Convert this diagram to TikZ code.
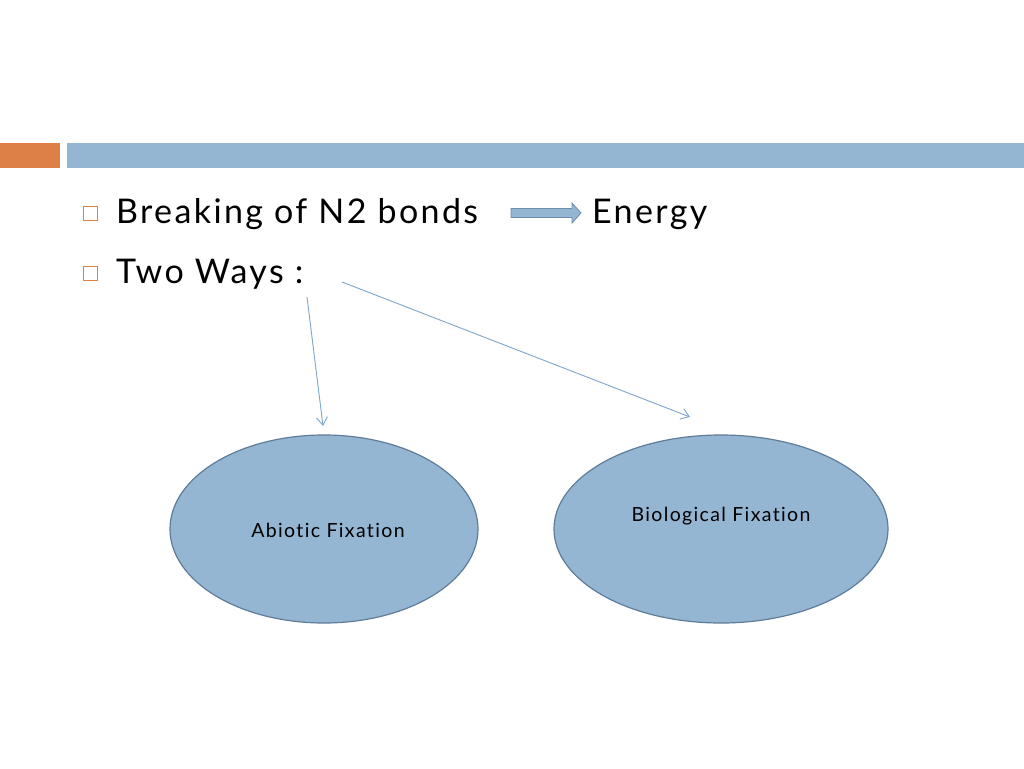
\documentclass[tikz,border=0pt]{standalone}
\usepackage{fontspec}
\setmainfont{Lato}[LetterSpace=7, Ligatures=NoCommon]
\usetikzlibrary{shapes.geometric,arrows.meta}
\definecolor{barblue}{HTML}{94B6D2}
\definecolor{barorange}{HTML}{DD8047}
\definecolor{ellborder}{HTML}{5F7C99}
\definecolor{thinarrow}{HTML}{7FA5CB}
\definecolor{blockborder}{HTML}{6C8DAE}
\tikzset{
  bigtext/.style={anchor=base west, inner sep=0pt, font=\fontsize{34}{36}\selectfont},
  smalltext/.style={inner sep=0pt, font=\fontsize{19.5}{22}\selectfont},
  bulletbox/.style={draw=barorange, line width=1pt, fill=white},
  fixell/.style={ellipse, draw=ellborder, line width=1.2pt, fill=barblue, inner sep=0pt},
  thinarr/.style={draw=thinarrow, line width=0.9pt, -{Straight Barb[length=8pt,width=11pt]}}
}
\begin{document}
\begin{tikzpicture}[x=1pt,y=-1pt]
\useasboundingbox (0,0) rectangle (1024,768);
\fill[white] (0,0) rectangle (1024,768);
% header bars
\fill[barorange] (0,143) rectangle (60,168);
\fill[barblue] (67,143) rectangle (1024,168);
% bullets
\draw[bulletbox] (83,206) rectangle (97,220);
\draw[bulletbox] (83,266) rectangle (97,280);
\node[bigtext] (t1) at (116,223) {Breaking of N2 bonds};
\node[bigtext] (en) at (592,223) {Energy};
\node[bigtext] (t2) at (116,283) {Two Ways :};
% block arrow
\draw[draw=blockborder, fill=barblue, line width=0.8pt]
  (511,208.5) -- (572,208.5) -- (572,203) -- (581,213) -- (572,223) -- (572,217.5) -- (511,217.5) -- cycle;
% ellipses
\node[fixell, minimum width=308pt, minimum height=188pt] (abio) at (324,529) {};
\node[fixell, minimum width=334pt, minimum height=188pt] (bio) at (721,529) {};
\node[smalltext] (abiot) at (328,530) {Abiotic Fixation};
\node[smalltext] (biot) at (721,516) {Biological Fixation};
% thin arrows
\coordinate (s1) at (307,297);
\coordinate (e1) at (323,426);
\coordinate (s2) at (342,282);
\coordinate (e2) at (690,417);
\draw[thinarr] (s1) -- (e1);
\draw[thinarr] (s2) -- (e2);
\end{tikzpicture}
\end{document}
